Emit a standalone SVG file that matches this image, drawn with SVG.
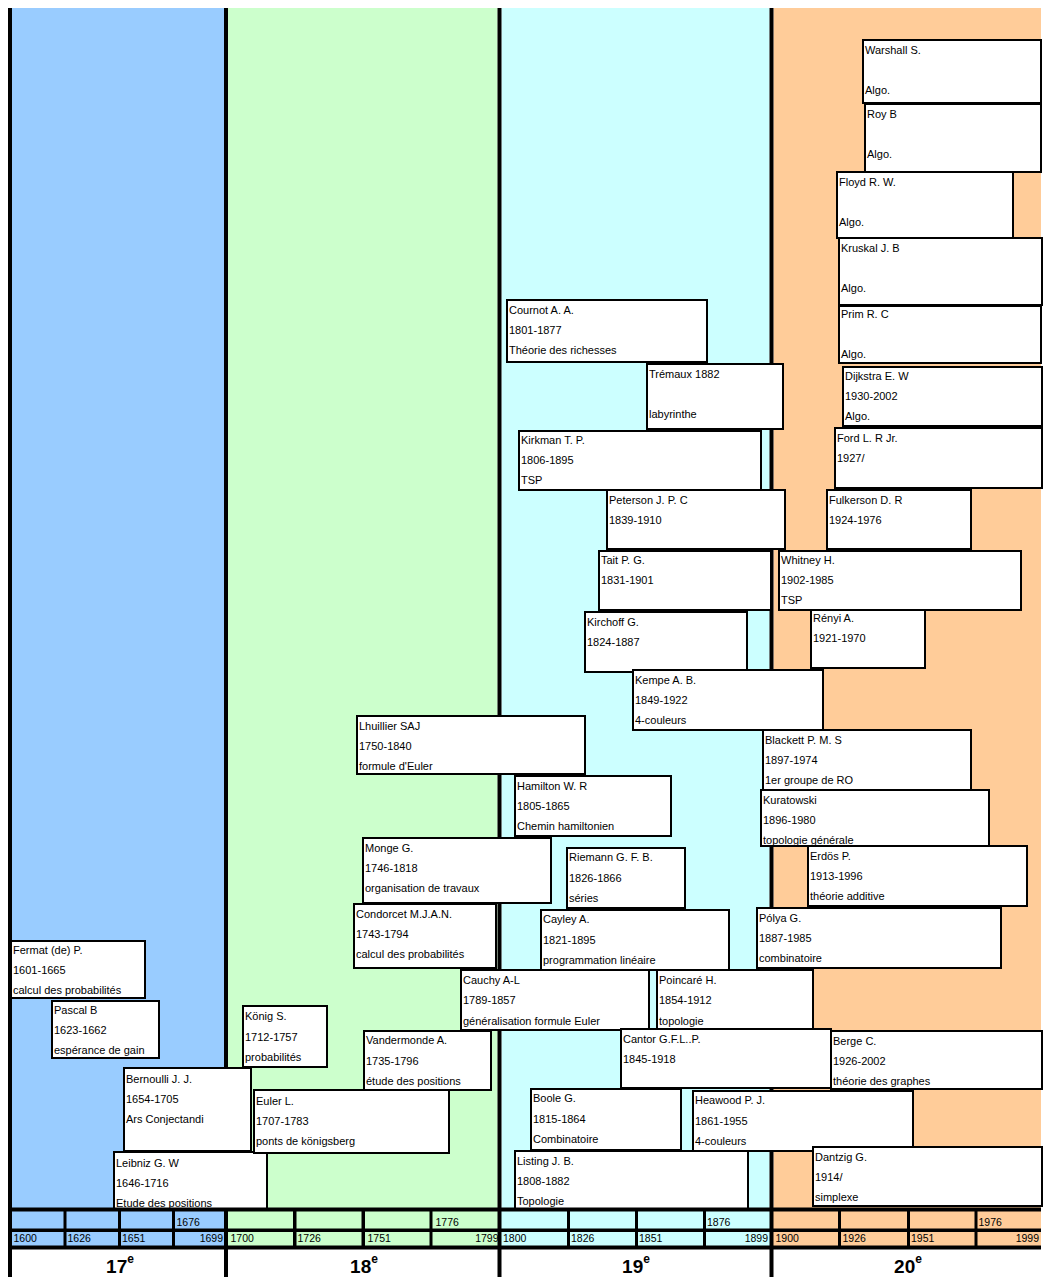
<svg xmlns="http://www.w3.org/2000/svg" width="1045" height="1277" viewBox="0 0 1045 1277">
<style>
.box{fill:#ffffff;stroke:#000000;stroke-width:2}
.t{font-family:"Liberation Sans",Arial,sans-serif;font-size:11px;fill:#000000}
.ax{font-family:"Liberation Sans",Arial,sans-serif;font-size:10.5px;fill:#000000}
.hd{font-family:"Liberation Sans",Arial,sans-serif;font-size:19px;font-weight:bold;fill:#000000;text-anchor:middle}
.sup{font-size:12px}
.blk{fill:#000000}
.c17{fill:#99CCFF}.c18{fill:#CCFFCC}.c19{fill:#CCFFFF}.c20{fill:#FFCC99}
</style>
<rect x="0" y="0" width="1045" height="1277" fill="#ffffff"/>
<g id="background">
<rect class="c17" x="12" y="8" width="212" height="1200"/>
<rect class="c18" x="228" y="8" width="269.5" height="1200"/>
<rect class="c19" x="501.5" y="8" width="268" height="1200"/>
<rect class="c20" x="773.5" y="8" width="267.5" height="1200"/>
<rect class="blk" x="8" y="8" width="4" height="1269"/>
<rect class="blk" x="224" y="8" width="4" height="1269"/>
<rect class="blk" x="497.5" y="8" width="4" height="1269"/>
<rect class="blk" x="769.5" y="8" width="4" height="1269"/>
</g>
<g id="nodes">
<g id="fermat"><rect class="box" x="11" y="941" width="134" height="57"/><text class="t" x="13" y="954">Fermat (de) P.</text><text class="t" x="13" y="974">1601-1665</text><text class="t" x="13" y="994">calcul des probabilités</text></g>
<g id="pascal"><rect class="box" x="52" y="1001" width="107" height="57"/><text class="t" x="54" y="1014">Pascal B</text><text class="t" x="54" y="1034">1623-1662</text><text class="t" x="54" y="1054">espérance de gain</text></g>
<g id="bernoulli"><rect class="box" x="124" y="1068" width="127" height="83"/><text class="t" x="126" y="1083">Bernoulli J. J.</text><text class="t" x="126" y="1103">1654-1705</text><text class="t" x="126" y="1123">Ars Conjectandi</text></g>
<g id="leibniz"><rect class="box" x="114" y="1152" width="153" height="57"/><text class="t" x="116" y="1167">Leibniz G. W</text><text class="t" x="116" y="1187">1646-1716</text><text class="t" x="116" y="1207">Etude des positions</text></g>
<g id="konig"><rect class="box" x="243" y="1006" width="84" height="61"/><text class="t" x="245" y="1020">König S.</text><text class="t" x="245" y="1041">1712-1757</text><text class="t" x="245" y="1061">probabilités</text></g>
<g id="vandermonde"><rect class="box" x="364" y="1031" width="127" height="59"/><text class="t" x="366" y="1044">Vandermonde A.</text><text class="t" x="366" y="1065">1735-1796</text><text class="t" x="366" y="1085">étude des positions</text></g>
<g id="euler"><rect class="box" x="254" y="1090" width="195" height="63"/><text class="t" x="256" y="1105">Euler L.</text><text class="t" x="256" y="1125">1707-1783</text><text class="t" x="256" y="1145">ponts de königsberg</text></g>
<g id="lhuillier"><rect class="box" x="357" y="716" width="228" height="58"/><text class="t" x="359" y="730">Lhuillier SAJ</text><text class="t" x="359" y="750">1750-1840</text><text class="t" x="359" y="770">formule d'Euler</text></g>
<g id="monge"><rect class="box" x="363" y="838" width="188" height="65"/><text class="t" x="365" y="852">Monge G.</text><text class="t" x="365" y="872">1746-1818</text><text class="t" x="365" y="892">organisation de travaux</text></g>
<g id="condorcet"><rect class="box" x="354" y="904" width="142" height="64"/><text class="t" x="356" y="918">Condorcet M.J.A.N.</text><text class="t" x="356" y="938">1743-1794</text><text class="t" x="356" y="958">calcul des probabilités</text></g>
<g id="cauchy"><rect class="box" x="461" y="970" width="188" height="60"/><text class="t" x="463" y="984">Cauchy A-L</text><text class="t" x="463" y="1004">1789-1857</text><text class="t" x="463" y="1025">généralisation formule Euler</text></g>
<g id="cournot"><rect class="box" x="507" y="300" width="200" height="62"/><text class="t" x="509" y="314">Cournot A. A.</text><text class="t" x="509" y="334">1801-1877</text><text class="t" x="509" y="354">Théorie des richesses</text></g>
<g id="tremaux"><rect class="box" x="647" y="364" width="136" height="65"/><text class="t" x="649" y="378">Trémaux 1882</text><text class="t" x="649" y="418">labyrinthe</text></g>
<g id="kirkman"><rect class="box" x="519" y="431" width="242" height="59"/><text class="t" x="521" y="444">Kirkman T. P.</text><text class="t" x="521" y="464">1806-1895</text><text class="t" x="521" y="484">TSP</text></g>
<g id="peterson"><rect class="box" x="607" y="490" width="178" height="59"/><text class="t" x="609" y="504">Peterson J. P. C</text><text class="t" x="609" y="524">1839-1910</text></g>
<g id="tait"><rect class="box" x="599" y="551" width="172" height="59"/><text class="t" x="601" y="564">Tait P. G.</text><text class="t" x="601" y="584">1831-1901</text></g>
<g id="kirchoff"><rect class="box" x="585" y="612" width="162" height="60"/><text class="t" x="587" y="626">Kirchoff G.</text><text class="t" x="587" y="646">1824-1887</text></g>
<g id="kempe"><rect class="box" x="633" y="670" width="190" height="60"/><text class="t" x="635" y="684">Kempe A. B.</text><text class="t" x="635" y="704">1849-1922</text><text class="t" x="635" y="724">4-couleurs</text></g>
<g id="hamilton"><rect class="box" x="515" y="776" width="156" height="60"/><text class="t" x="517" y="790">Hamilton W. R</text><text class="t" x="517" y="810">1805-1865</text><text class="t" x="517" y="830">Chemin hamiltonien</text></g>
<g id="riemann"><rect class="box" x="567" y="848" width="118" height="60"/><text class="t" x="569" y="861">Riemann G. F. B.</text><text class="t" x="569" y="882">1826-1866</text><text class="t" x="569" y="902">séries</text></g>
<g id="cayley"><rect class="box" x="541" y="910" width="188" height="60"/><text class="t" x="543" y="923">Cayley A.</text><text class="t" x="543" y="944">1821-1895</text><text class="t" x="543" y="964">programmation linéaire</text></g>
<g id="poincare"><rect class="box" x="657" y="970" width="156" height="60"/><text class="t" x="659" y="984">Poincaré H.</text><text class="t" x="659" y="1004">1854-1912</text><text class="t" x="659" y="1025">topologie</text></g>
<g id="cantor"><rect class="box" x="621" y="1029" width="210" height="59"/><text class="t" x="623" y="1043">Cantor G.F.L..P.</text><text class="t" x="623" y="1063">1845-1918</text></g>
<g id="boole"><rect class="box" x="531" y="1089" width="150" height="61"/><text class="t" x="533" y="1102">Boole G.</text><text class="t" x="533" y="1123">1815-1864</text><text class="t" x="533" y="1143">Combinatoire</text></g>
<g id="heawood"><rect class="box" x="693" y="1091" width="220" height="60"/><text class="t" x="695" y="1104">Heawood P. J.</text><text class="t" x="695" y="1125">1861-1955</text><text class="t" x="695" y="1145">4-couleurs</text></g>
<g id="listing"><rect class="box" x="515" y="1151" width="233" height="58"/><text class="t" x="517" y="1165">Listing J. B.</text><text class="t" x="517" y="1185">1808-1882</text><text class="t" x="517" y="1205">Topologie</text></g>
<g id="warshall"><rect class="box" x="863" y="40" width="178" height="63"/><text class="t" x="865" y="54">Warshall S.</text><text class="t" x="865" y="94">Algo.</text></g>
<g id="roy"><rect class="box" x="865" y="104" width="176" height="68"/><text class="t" x="867" y="118">Roy B</text><text class="t" x="867" y="158">Algo.</text></g>
<g id="floyd"><rect class="box" x="837" y="172" width="176" height="66"/><text class="t" x="839" y="186">Floyd R. W.</text><text class="t" x="839" y="226">Algo.</text></g>
<g id="kruskal"><rect class="box" x="839" y="238" width="203" height="67"/><text class="t" x="841" y="252">Kruskal J. B</text><text class="t" x="841" y="292">Algo.</text></g>
<g id="prim"><rect class="box" x="839" y="306" width="202" height="57"/><text class="t" x="841" y="318">Prim R. C</text><text class="t" x="841" y="358">Algo.</text></g>
<g id="dijkstra"><rect class="box" x="843" y="367" width="199" height="59"/><text class="t" x="845" y="380">Dijkstra E. W</text><text class="t" x="845" y="400">1930-2002</text><text class="t" x="845" y="420">Algo.</text></g>
<g id="ford"><rect class="box" x="835" y="428" width="207" height="60"/><text class="t" x="837" y="442">Ford L. R Jr.</text><text class="t" x="837" y="462">1927/</text></g>
<g id="fulkerson"><rect class="box" x="827" y="490" width="144" height="59"/><text class="t" x="829" y="504">Fulkerson D. R</text><text class="t" x="829" y="524">1924-1976</text></g>
<g id="whitney"><rect class="box" x="779" y="551" width="242" height="59"/><text class="t" x="781" y="564">Whitney H.</text><text class="t" x="781" y="584">1902-1985</text><text class="t" x="781" y="604">TSP</text></g>
<g id="renyi"><rect class="box" x="811" y="610" width="114" height="58"/><text class="t" x="813" y="622">Rényi A.</text><text class="t" x="813" y="642">1921-1970</text></g>
<g id="blackett"><rect class="box" x="763" y="730" width="208" height="60"/><text class="t" x="765" y="744">Blackett P. M. S</text><text class="t" x="765" y="764">1897-1974</text><text class="t" x="765" y="784">1er groupe de RO</text></g>
<g id="kuratowski"><rect class="box" x="761" y="790" width="228" height="56"/><text class="t" x="763" y="804">Kuratowski</text><text class="t" x="763" y="824">1896-1980</text><text class="t" x="763" y="844">topologie générale</text></g>
<g id="erdos"><rect class="box" x="808" y="846" width="219" height="60"/><text class="t" x="810" y="860">Erdös P.</text><text class="t" x="810" y="880">1913-1996</text><text class="t" x="810" y="900">théorie additive</text></g>
<g id="polya"><rect class="box" x="757" y="908" width="244" height="60"/><text class="t" x="759" y="922">Pólya G.</text><text class="t" x="759" y="942">1887-1985</text><text class="t" x="759" y="962">combinatoire</text></g>
<g id="berge"><rect class="box" x="831" y="1031" width="211" height="58"/><text class="t" x="833" y="1045">Berge C.</text><text class="t" x="833" y="1065">1926-2002</text><text class="t" x="833" y="1085">théorie des graphes</text></g>
<g id="dantzig"><rect class="box" x="813" y="1147" width="229" height="59"/><text class="t" x="815" y="1161">Dantzig G.</text><text class="t" x="815" y="1181">1914/</text><text class="t" x="815" y="1201">simplexe</text></g>
</g>
<g id="axis">
<rect class="blk" x="8" y="1207.5" width="1033" height="42"/>
<g id="row1">
<rect class="c17" x="12" y="1211.5" width="51.5" height="17"/><rect class="c17" x="66.5" y="1211.5" width="51.5" height="17"/><rect class="c17" x="121" y="1211.5" width="51" height="17"/><rect class="c17" x="175" y="1211.5" width="49" height="17"/>
<rect class="c18" x="228" y="1211.5" width="65" height="17"/><rect class="c18" x="296.5" y="1211.5" width="65" height="17"/><rect class="c18" x="365" y="1211.5" width="64.5" height="17"/><rect class="c18" x="432.5" y="1211.5" width="65" height="17"/>
<rect class="c19" x="501.5" y="1211.5" width="65.5" height="17"/><rect class="c19" x="570" y="1211.5" width="65" height="17"/><rect class="c19" x="638" y="1211.5" width="65" height="17"/><rect class="c19" x="706" y="1211.5" width="63.5" height="17"/>
<rect class="c20" x="773.5" y="1211.5" width="64.5" height="17"/><rect class="c20" x="841" y="1211.5" width="66" height="17"/><rect class="c20" x="910" y="1211.5" width="64.5" height="17"/><rect class="c20" x="977.5" y="1211.5" width="63.5" height="17"/>
</g>
<g id="row2">
<rect class="c17" x="12" y="1232" width="51.5" height="13.5"/><rect class="c17" x="66.5" y="1232" width="51.5" height="13.5"/><rect class="c17" x="121" y="1232" width="51" height="13.5"/><rect class="c17" x="175" y="1232" width="49" height="13.5"/>
<rect class="c18" x="228" y="1232" width="65" height="13.5"/><rect class="c18" x="296.5" y="1232" width="65" height="13.5"/><rect class="c18" x="365" y="1232" width="64.5" height="13.5"/><rect class="c18" x="432.5" y="1232" width="65" height="13.5"/>
<rect class="c19" x="501.5" y="1232" width="65.5" height="13.5"/><rect class="c19" x="570" y="1232" width="65" height="13.5"/><rect class="c19" x="638" y="1232" width="65" height="13.5"/><rect class="c19" x="706" y="1232" width="63.5" height="13.5"/>
<rect class="c20" x="773.5" y="1232" width="64.5" height="13.5"/><rect class="c20" x="841" y="1232" width="66" height="13.5"/><rect class="c20" x="910" y="1232" width="64.5" height="13.5"/><rect class="c20" x="977.5" y="1232" width="63.5" height="13.5"/>
</g>
<text class="ax" x="176.5" y="1226">1676</text><text class="ax" x="435.5" y="1226">1776</text><text class="ax" x="707" y="1226">1876</text><text class="ax" x="978.5" y="1226">1976</text>
<text class="ax" x="13.5" y="1242">1600</text><text class="ax" x="67.5" y="1242">1626</text><text class="ax" x="122" y="1242">1651</text><text class="ax" x="223" y="1242" text-anchor="end">1699</text>
<text class="ax" x="230.5" y="1242">1700</text><text class="ax" x="297.5" y="1242">1726</text><text class="ax" x="367.5" y="1242">1751</text><text class="ax" x="498.5" y="1242" text-anchor="end">1799</text>
<text class="ax" x="503" y="1242">1800</text><text class="ax" x="571" y="1242">1826</text><text class="ax" x="639" y="1242">1851</text><text class="ax" x="768" y="1242" text-anchor="end">1899</text>
<text class="ax" x="775.5" y="1242">1900</text><text class="ax" x="842.5" y="1242">1926</text><text class="ax" x="911" y="1242">1951</text><text class="ax" x="1039" y="1242" text-anchor="end">1999</text>
</g>
<g id="header">
<text class="hd" x="120" y="1272.5">17<tspan class="sup" dy="-10">e</tspan></text>
<text class="hd" x="364" y="1272.5">18<tspan class="sup" dy="-10">e</tspan></text>
<text class="hd" x="636" y="1272.5">19<tspan class="sup" dy="-10">e</tspan></text>
<text class="hd" x="908" y="1272.5">20<tspan class="sup" dy="-10">e</tspan></text>
</g>
</svg>
